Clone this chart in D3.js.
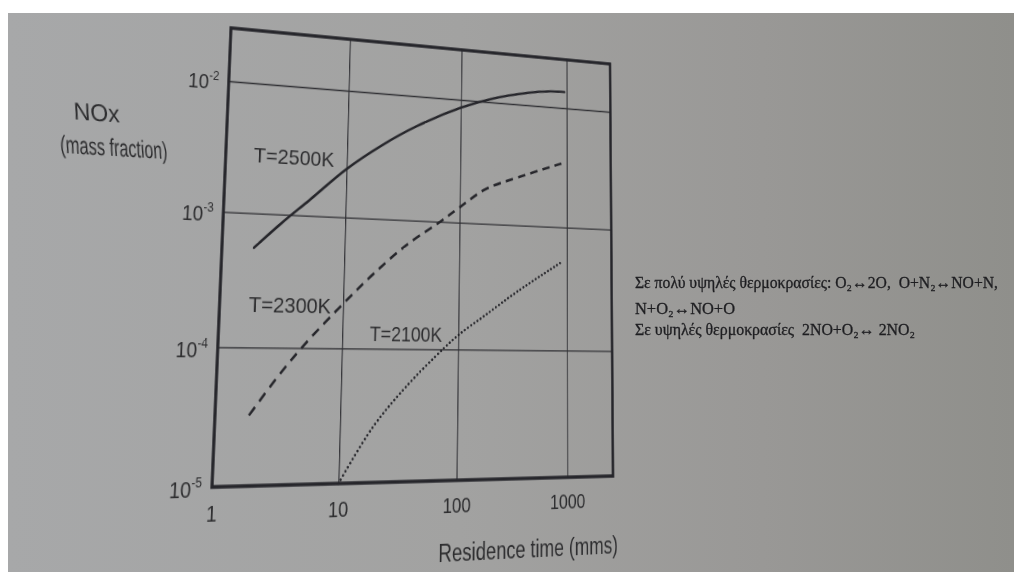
<!DOCTYPE html>
<html>
<head>
<meta charset="utf-8">
<script src="https://cdn.jsdelivr.net/npm/d3@7"></script>
<style>
  html, body { margin: 0; padding: 0; background: #ffffff; }
  body { width: 1014px; height: 572px; position: relative; overflow: hidden; }
  #paper {
    position: absolute; left: 8px; top: 13px; right: 0; bottom: 0;
    background: linear-gradient(to right, #a7a8a9 0%, #a2a2a1 45%, #999896 75%, #8f8f8b 100%);
  }
  #plate { position: absolute; left: 0; top: 0; width: 1014px; height: 572px; transform-origin: 0 0; }
  #notes { position: absolute; left: 0; top: 0; }
</style>
</head>
<body>
<div id="paper"></div>
<div id="plate"></div>
<svg id="notes" width="1014" height="572"></svg>
<script>
// ---- data ----
const xTicks = [1, 10, 100, 1000];
const yTicks = [1e-5, 1e-4, 1e-3, 1e-2];
const xGrid = [10, 100, 1000];
const yGrid = [1e-4, 1e-3, 1e-2];
const seriesNames = ["T=2500K", "T=2300K", "T=2100K"];

// residence time (ms) and NOx mass fraction for each temperature
const time2500 = [1.8, 3, 5, 10, 20, 40, 100, 200, 400, 700, 950];
const nox2500  = [5.5e-4, 8.7e-4, 1.33e-3, 2.39e-3, 3.84e-3, 5.7e-3, 8.6e-3, 1.08e-2, 1.26e-2, 1.36e-2, 1.37e-2];

const time2300 = [1.84, 2.95, 4.8, 10.2, 18, 34, 67, 99, 170, 346, 980];
const nox2300  = [3.2e-5, 5.9e-5, 1.035e-4, 2.21e-4, 3.76e-4, 6.38e-4, 1.0e-3, 1.32e-3, 1.9e-3, 2.48e-3, 3.5e-3];

const time2100 = [10, 18.4, 34.4, 74, 102, 173, 347, 895];
const nox2100  = [1.0e-5, 2.5e-5, 5.0e-5, 1.01e-4, 1.31e-4, 1.86e-4, 2.95e-4, 5.2e-4];

// label anchors (data coordinates) for the curve names
const labelTime = [1.68, 1.70, 17];
const labelNox  = [2.43e-3, 1.82e-4, 1.14e-4];

// ---- layout (flat drawing space, later projected onto the page) ----
const FL = 270, FT = 46, FW = 488, FH = 436;
const ink = "#26262b", textInk = "#2d2d2f";
const sans = "Arial, 'Liberation Sans', sans-serif";

const x = d3.scaleLog().domain([1, 2700]).range([FL, FL + FW]);
const y = d3.scaleLog().domain([1e-5, 2.6e-2]).range([FT + FH, FT]);

const svg = d3.select("#plate").append("svg")
  .attr("width", 1014).attr("height", 572)
  .style("overflow", "visible");

// grid
const gx = svg.append("g").attr("transform", `translate(0,${FT + FH})`)
  .call(d3.axisBottom(x).tickValues(xGrid).tickSize(-FH).tickFormat(""));
const gy = svg.append("g").attr("transform", `translate(${FL},0)`)
  .call(d3.axisLeft(y).tickValues(yGrid).tickSize(-FW).tickFormat(""));
[gx, gy].forEach(g => {
  g.select(".domain").remove();
  g.selectAll("line").attr("stroke", "#303034").attr("stroke-width", 1.3);
});

// frame
svg.append("rect").attr("x", FL).attr("y", FT).attr("width", FW).attr("height", FH)
  .attr("fill", "none").attr("stroke", ink).attr("stroke-width", 3.4);

// x tick labels
const ax = svg.append("g").attr("transform", `translate(0,${FT + FH})`)
  .call(d3.axisBottom(x).tickValues(xTicks).tickSize(0).tickPadding(16).tickFormat(d3.format("d")));
ax.select(".domain").remove();
ax.selectAll("text").attr("font-size", 21).attr("fill", textInk).style("font-family", sans);

// y tick labels with powers of ten
const ay = svg.append("g").attr("transform", `translate(${FL},0)`)
  .call(d3.axisLeft(y).tickValues(yTicks).tickSize(0).tickPadding(11).tickFormat(""));
ay.select(".domain").remove();
ay.selectAll(".tick text").each(function(d) {
  const t = d3.select(this).attr("font-size", 21).attr("fill", textInk)
    .style("font-family", sans).attr("dy", "0.42em");
  t.append("tspan").text("10");
  t.append("tspan").attr("font-size", 13).attr("dy", -9).text(String(Math.round(Math.log10(d))));
});

// curves
const line = d3.line().x(d => x(d[0])).y(d => y(d[1])).curve(d3.curveCatmullRom.alpha(0.5));
const series = [
  { t: time2500, v: nox2500, dash: null, cap: "round", w: 2.6 },
  { t: time2300, v: nox2300, dash: "10 7", cap: "butt", w: 2.7 },
  { t: time2100, v: nox2100, dash: "0.01 4.6", cap: "round", w: 2.6 }
];
series.forEach(s => {
  svg.append("path")
    .attr("d", line(s.t.map((t, i) => [t, s.v[i]])))
    .attr("fill", "none").attr("stroke", ink).attr("stroke-width", s.w)
    .attr("stroke-linecap", s.cap)
    .attr("stroke-dasharray", s.dash);
});

// curve names
const nameWidths = [95, 95, 89];
seriesNames.forEach((name, i) => {
  svg.append("text").attr("x", x(labelTime[i])).attr("y", y(labelNox[i]))
    .attr("font-size", 21).attr("fill", textInk).style("font-family", sans)
    .attr("textLength", nameWidths[i]).attr("lengthAdjust", "spacingAndGlyphs")
    .text(name);
});

// axis titles (the left title is counter-sheared so it stays upright after projection)
function uprightTitle(text, cx, cy, len) {
  svg.append("text").attr("x", cx).attr("y", cy).attr("text-anchor", "middle")
    .attr("transform", `translate(${cx},${cy}) skewX(7) translate(${-cx},${-cy})`)
    .attr("font-size", 23).attr("fill", textInk).style("font-family", sans)
    .attr("textLength", len).attr("lengthAdjust", "spacingAndGlyphs").text(text);
}
uprightTitle("NOx", FL - 143, 147, 49);
uprightTitle("(mass fraction)", FL - 122, 179, 115);
svg.append("text").attr("x", FL + FW + 6).attr("y", FT + FH + 77).attr("text-anchor", "end")
  .attr("font-size", 23).attr("fill", textInk).style("font-family", sans)
  .attr("textLength", 231).attr("lengthAdjust", "spacingAndGlyphs").text("Residence time (mms)");

// project the flat drawing onto the tilted page quadrilateral
function homography(src, dst) {
  const A = [], b = [];
  for (let i = 0; i < 4; i++) {
    const [sx, sy] = src[i], [u, v] = dst[i];
    A.push([sx, sy, 1, 0, 0, 0, -sx * u, -sy * u]); b.push(u);
    A.push([0, 0, 0, sx, sy, 1, -sx * v, -sy * v]); b.push(v);
  }
  const n = 8;
  for (let i = 0; i < n; i++) {
    let p = i;
    for (let r = i + 1; r < n; r++) if (Math.abs(A[r][i]) > Math.abs(A[p][i])) p = r;
    [A[i], A[p]] = [A[p], A[i]]; [b[i], b[p]] = [b[p], b[i]];
    for (let r = 0; r < n; r++) {
      if (r === i) continue;
      const f = A[r][i] / A[i][i];
      for (let c = i; c < n; c++) A[r][c] -= f * A[i][c];
      b[r] -= f * b[i];
    }
  }
  return b.map((v, i) => v / A[i][i]);
}
const [ha, hb, hc, hd, he, hf, hg, hh] = homography(
  [[FL, FT], [FL + FW, FT], [FL, FT + FH], [FL + FW, FT + FH]],
  [[231, 28], [610, 64], [212, 487], [613, 476]]
);
d3.select("#plate").style("transform",
  `matrix3d(${ha},${hd},0,${hg},${hb},${he},0,${hh},0,0,1,0,${hc},${hf},0,1)`);

// side notes (Greek)
const noteLines = [
  { text: "Σε πολύ υψηλές θερμοκρασίες: O₂↔2O,  O+N₂↔NO+N,", y: 288, len: 363 },
  { text: "N+O₂↔NO+O", y: 314, len: 100 },
  { text: "Σε υψηλές θερμοκρασίες  2NO+O₂↔ 2NO₂", y: 335, len: 280 }
];
d3.select("#notes").selectAll("text").data(noteLines).join("text")
  .attr("x", 635).attr("y", d => d.y)
  .style("font-family", "'Liberation Serif', 'DejaVu Serif', serif")
  .style("white-space", "pre")
  .attr("font-size", 16).attr("fill", "#1e1e21")
  .attr("stroke", "#1e1e21").attr("stroke-width", 0.3)
  .attr("textLength", d => d.len).attr("lengthAdjust", "spacingAndGlyphs")
  .text(d => d.text);
</script>
</body>
</html>
